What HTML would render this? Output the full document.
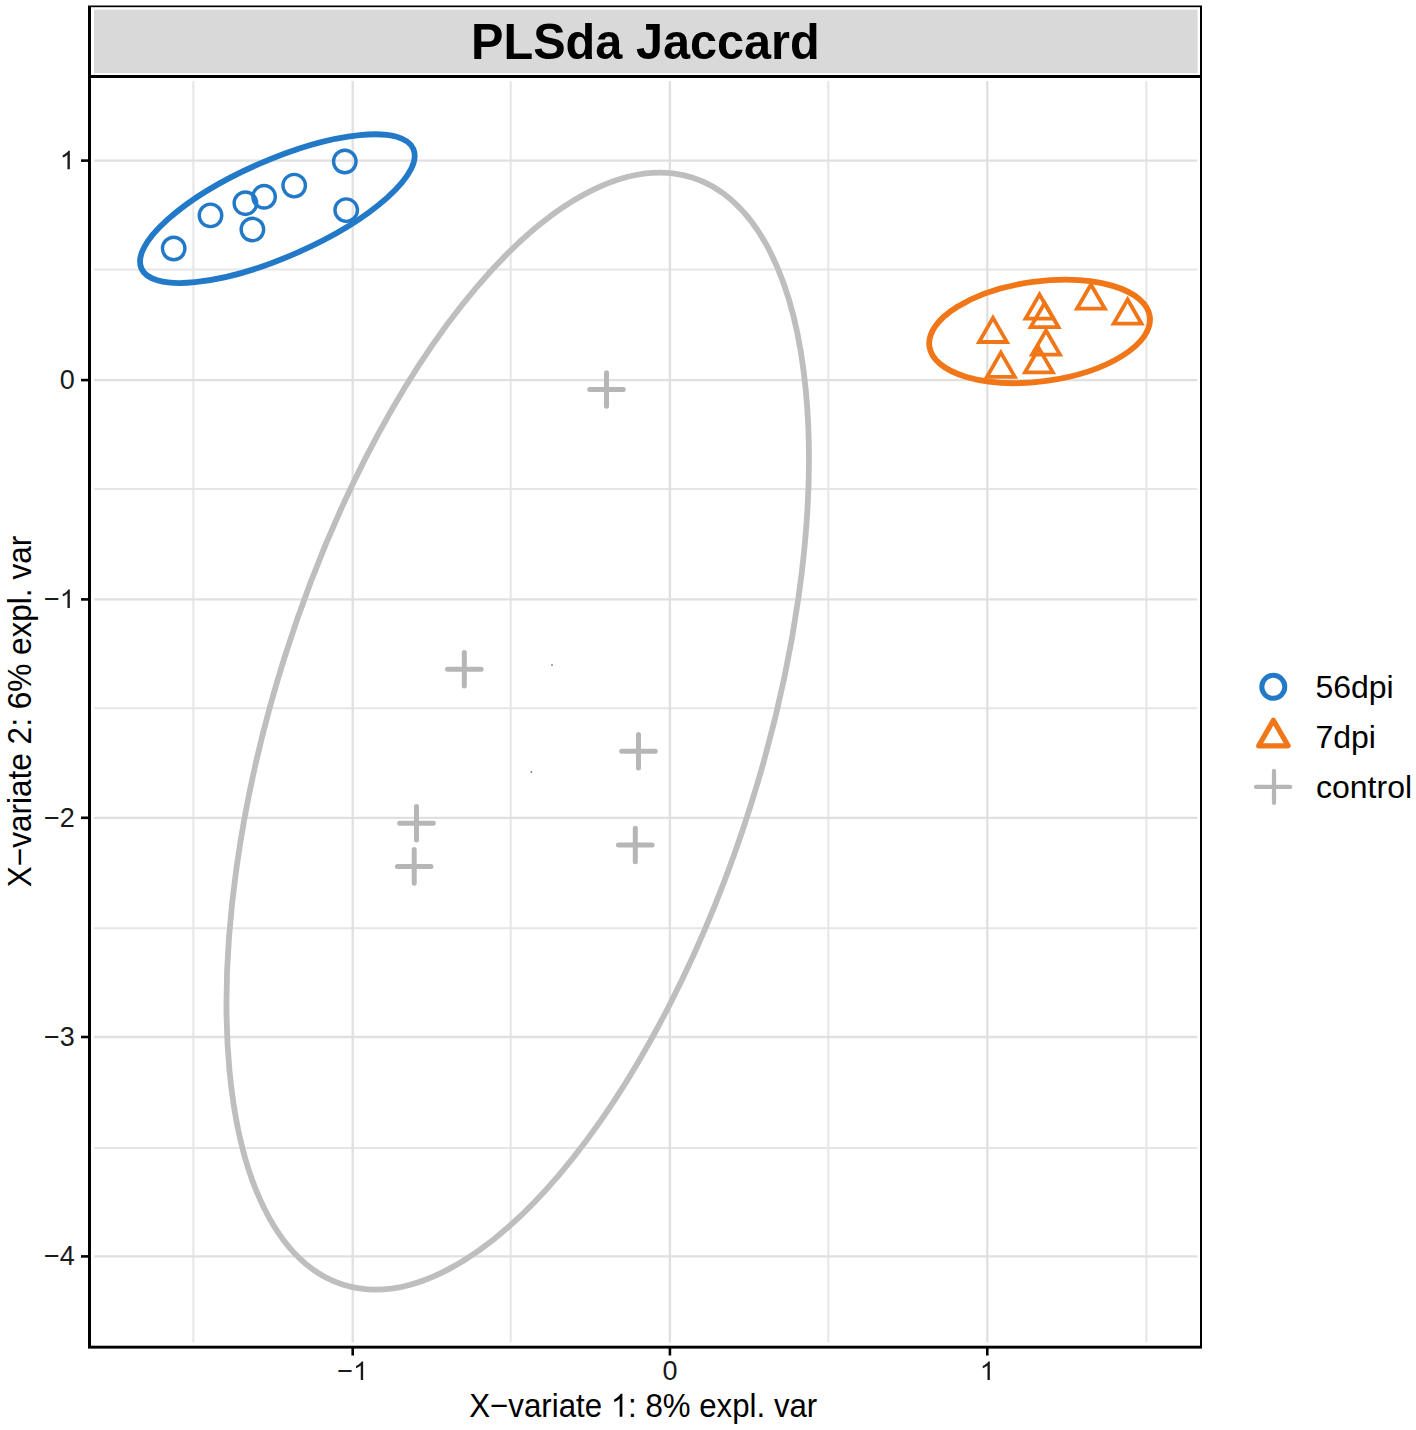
<!DOCTYPE html><html><head><meta charset="utf-8"><style>html,body{margin:0;padding:0;background:#fff;overflow:hidden}svg{display:block}</style></head><body><svg width="1416" height="1430" viewBox="0 0 1416 1430">
<rect width="1416" height="1430" fill="#fff"/>
<rect x="88" y="5.5" width="1114" height="72.5" fill="#000"/>
<rect x="91" y="7.2" width="1109" height="67.8" fill="#fff"/>
<rect x="94" y="9.6" width="1103.6" height="63.6" fill="#d9d9d9"/>
<text x="645.4" y="59.1" font-family="Liberation Sans, sans-serif" font-weight="bold" font-size="50" text-anchor="middle" textLength="348.7" lengthAdjust="spacingAndGlyphs" fill="#000">PLSda Jaccard</text>
<rect x="88" y="75" width="1114" height="1273.6" fill="#000"/>
<rect x="91" y="78" width="1109" height="1267.7" fill="#fff"/>
<defs><clipPath id="pc"><rect x="94" y="81" width="1103.2" height="1261.6"/></clipPath></defs>
<g clip-path="url(#pc)" stroke="#e5e5e5" stroke-width="2.0" fill="none">
<line x1="193.4" y1="0" x2="193.4" y2="1430"/>
<line x1="510.7" y1="0" x2="510.7" y2="1430"/>
<line x1="828.3" y1="0" x2="828.3" y2="1430"/>
<line x1="1146.4" y1="0" x2="1146.4" y2="1430"/>
<line x1="0" y1="269.5" x2="1416" y2="269.5"/>
<line x1="0" y1="489.1" x2="1416" y2="489.1"/>
<line x1="0" y1="708.3" x2="1416" y2="708.3"/>
<line x1="0" y1="928.3" x2="1416" y2="928.3"/>
<line x1="0" y1="1147.9" x2="1416" y2="1147.9"/>
</g>
<g clip-path="url(#pc)" stroke="#e0e0e0" stroke-width="2.3" fill="none">
<line x1="352.7" y1="0" x2="352.7" y2="1430"/>
<line x1="669.9" y1="0" x2="669.9" y2="1430"/>
<line x1="987.3" y1="0" x2="987.3" y2="1430"/>
<line x1="0" y1="160.6" x2="1416" y2="160.6"/>
<line x1="0" y1="380.1" x2="1416" y2="380.1"/>
<line x1="0" y1="599.4" x2="1416" y2="599.4"/>
<line x1="0" y1="817.8" x2="1416" y2="817.8"/>
<line x1="0" y1="1037.0" x2="1416" y2="1037.0"/>
<line x1="0" y1="1256.4" x2="1416" y2="1256.4"/>
</g>
<g clip-path="url(#pc)">
<ellipse cx="517.71" cy="731.16" rx="580.42" ry="244.54" transform="rotate(-72.52 517.71 731.16)" fill="none" stroke="#bebebe" stroke-width="5.8"/>
<ellipse cx="277.36" cy="208.65" rx="148.52" ry="48.32" transform="rotate(156.25 277.36 208.65)" fill="none" stroke="#2279c7" stroke-width="5.8"/>
<ellipse cx="1039.61" cy="331.43" rx="111.21" ry="49.92" transform="rotate(172.28 1039.61 331.43)" fill="none" stroke="#f07618" stroke-width="5.8"/>
<circle cx="173.7" cy="248.5" r="11.25" fill="none" stroke="#2279c7" stroke-width="3.4"/>
<circle cx="210.5" cy="215.4" r="11.25" fill="none" stroke="#2279c7" stroke-width="3.4"/>
<circle cx="245.4" cy="203.2" r="11.25" fill="none" stroke="#2279c7" stroke-width="3.4"/>
<circle cx="264.1" cy="196.8" r="11.25" fill="none" stroke="#2279c7" stroke-width="3.4"/>
<circle cx="252.4" cy="229.5" r="11.25" fill="none" stroke="#2279c7" stroke-width="3.4"/>
<circle cx="294.2" cy="185.6" r="11.25" fill="none" stroke="#2279c7" stroke-width="3.4"/>
<circle cx="344.8" cy="161.5" r="11.25" fill="none" stroke="#2279c7" stroke-width="3.4"/>
<circle cx="346.2" cy="210.1" r="11.25" fill="none" stroke="#2279c7" stroke-width="3.4"/>
<polygon points="993.00,317.85 1006.94,342.00 979.06,342.00" fill="none" stroke="#f07618" stroke-width="3.8" stroke-linejoin="miter"/>
<polygon points="1039.50,294.45 1053.44,318.60 1025.56,318.60" fill="none" stroke="#f07618" stroke-width="3.8" stroke-linejoin="miter"/>
<polygon points="1044.60,303.05 1058.54,327.20 1030.66,327.20" fill="none" stroke="#f07618" stroke-width="3.8" stroke-linejoin="miter"/>
<polygon points="1090.90,284.55 1104.84,308.70 1076.96,308.70" fill="none" stroke="#f07618" stroke-width="3.8" stroke-linejoin="miter"/>
<polygon points="1127.60,299.55 1141.54,323.70 1113.66,323.70" fill="none" stroke="#f07618" stroke-width="3.8" stroke-linejoin="miter"/>
<polygon points="1046.00,330.45 1059.94,354.60 1032.06,354.60" fill="none" stroke="#f07618" stroke-width="3.8" stroke-linejoin="miter"/>
<polygon points="1038.90,348.25 1052.84,372.40 1024.96,372.40" fill="none" stroke="#f07618" stroke-width="3.8" stroke-linejoin="miter"/>
<polygon points="1000.90,352.65 1014.84,376.80 986.96,376.80" fill="none" stroke="#f07618" stroke-width="3.8" stroke-linejoin="miter"/>
<path d="M589.7 389.5H623.3M606.5 372.7V406.3" stroke="#b6b6b6" stroke-width="5" stroke-linecap="round" fill="none"/>
<path d="M447.5 669.2H481.1M464.3 652.4000000000001V686.0" stroke="#b6b6b6" stroke-width="5" stroke-linecap="round" fill="none"/>
<path d="M621.7 751.2H655.3M638.5 734.4000000000001V768.0" stroke="#b6b6b6" stroke-width="5" stroke-linecap="round" fill="none"/>
<path d="M399.7 823.3H433.3M416.5 806.5V840.0999999999999" stroke="#b6b6b6" stroke-width="5" stroke-linecap="round" fill="none"/>
<path d="M397.4 866.4H431.0M414.2 849.6V883.1999999999999" stroke="#b6b6b6" stroke-width="5" stroke-linecap="round" fill="none"/>
<path d="M618.5 845H652.0999999999999M635.3 828.2V861.8" stroke="#b6b6b6" stroke-width="5" stroke-linecap="round" fill="none"/>
<circle cx="552" cy="665" r="1" fill="#888"/><circle cx="531.3" cy="772" r="1" fill="#888"/>
</g>
<g stroke="#000" stroke-width="2.6">
<line x1="81" y1="160.6" x2="89" y2="160.6"/>
<line x1="81" y1="380.1" x2="89" y2="380.1"/>
<line x1="81" y1="599.4" x2="89" y2="599.4"/>
<line x1="81" y1="817.8" x2="89" y2="817.8"/>
<line x1="81" y1="1037.0" x2="89" y2="1037.0"/>
<line x1="81" y1="1256.4" x2="89" y2="1256.4"/>
<line x1="352.7" y1="1347" x2="352.7" y2="1355.5"/>
<line x1="669.9" y1="1347" x2="669.9" y2="1355.5"/>
<line x1="987.3" y1="1347" x2="987.3" y2="1355.5"/>
</g>
<g font-family="Liberation Sans, sans-serif" font-size="27" fill="#1a1a1a">
<path transform="translate(59.78 169.30) scale(0.01318 -0.01318)" d="M763 0H583V1100Q518 1040 412 980Q307 920 223 898V1065Q374 1133 487 1230Q600 1326 647 1409H763Z"/>
<text x="59.78" y="388.80">0</text>
<text x="44.02" y="608.10">−</text><path transform="translate(59.78 608.10) scale(0.01318 -0.01318)" d="M763 0H583V1100Q518 1040 412 980Q307 920 223 898V1065Q374 1133 487 1230Q600 1326 647 1409H763Z"/>
<text x="44.02" y="826.50">−</text><text x="59.78" y="826.50">2</text>
<text x="44.02" y="1045.70">−</text><text x="59.78" y="1045.70">3</text>
<text x="44.02" y="1265.10">−</text><text x="59.78" y="1265.10">4</text>
<text x="337.31" y="1380.00">−</text><path transform="translate(353.08 1380.00) scale(0.01318 -0.01318)" d="M763 0H583V1100Q518 1040 412 980Q307 920 223 898V1065Q374 1133 487 1230Q600 1326 647 1409H763Z"/>
<text x="662.39" y="1380.00">0</text>
<path transform="translate(979.79 1380.00) scale(0.01318 -0.01318)" d="M763 0H583V1100Q518 1040 412 980Q307 920 223 898V1065Q374 1133 487 1230Q600 1326 647 1409H763Z"/>
</g>
<g font-family="Liberation Sans, sans-serif" font-size="33.5" fill="#000" style="font-kerning:none" transform="translate(469.30 1416.8) scale(0.93212 1)"><text x="0.00" y="0">X−variate </text><path transform="translate(151.76 0) scale(0.01636 -0.01636)" d="M763 0H583V1100Q518 1040 412 980Q307 920 223 898V1065Q374 1133 487 1230Q600 1326 647 1409H763Z"/><text x="170.40" y="0">: 8% expl. var</text></g>
<text transform="translate(30.8 711.55) rotate(-90)" x="0" y="0" font-family="Liberation Sans, sans-serif" font-size="33.5" text-anchor="middle" textLength="351.5" lengthAdjust="spacingAndGlyphs" fill="#000">X−variate 2: 6% expl. var</text>
<circle cx="1273.3" cy="686.8" r="11.5" fill="none" stroke="#2279c7" stroke-width="5"/>
<polygon stroke-linejoin="round" points="1273.40,720.30 1288.12,745.80 1258.68,745.80" fill="none" stroke="#f07618" stroke-width="5.2"/>
<path d="M1256 786.9H1290.2M1274 770.9V802.9" stroke="#b6b6b6" stroke-width="4.2" stroke-linecap="round" fill="none"/>
<g font-family="Liberation Sans, sans-serif" font-size="32" fill="#000">
<text x="1315.4" y="698.4">56dpi</text><text x="1315.4" y="747.6">7dpi</text><text x="1316" y="798">control</text>
</g>
</svg></body></html>
